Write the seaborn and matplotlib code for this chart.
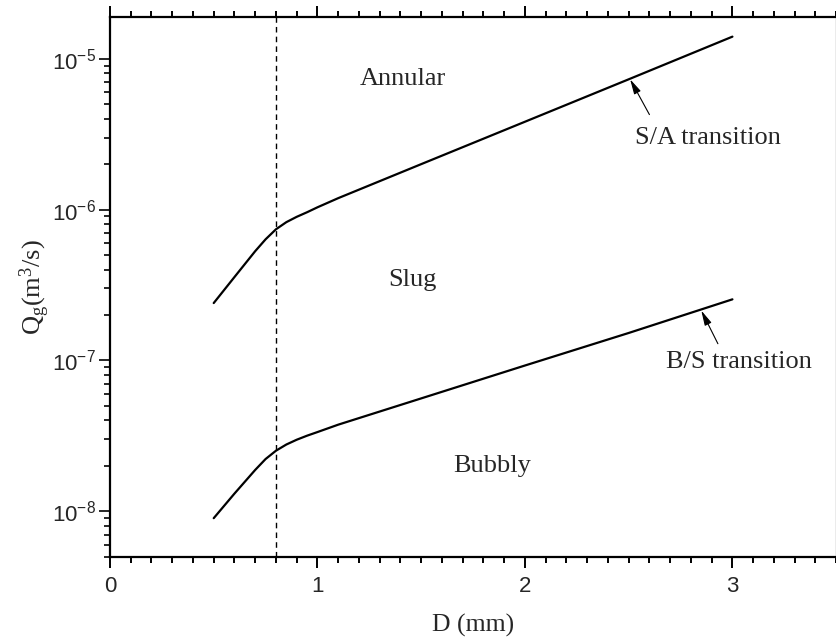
import numpy as np
import pandas as pd
import matplotlib
matplotlib.use('Agg')
import matplotlib.pyplot as plt
import matplotlib.ticker as mticker
import seaborn as sns

# 관 직경 D (mm)와 천이 경계 유량
diameter = [0.5, 0.6, 0.7, 0.75, 0.8, 0.85, 0.9, 0.95, 1.0, 1.1, 1.5, 2.0, 2.5, 3.0]
sa_transition = [2.4e-7, 3.57e-7, 5.3e-7, 6.35e-7, 7.4e-7, 8.25e-7, 8.95e-7, 9.6e-7,
                 1.035e-6, 1.19e-6, 2.0e-6, 3.82e-6, 7.3e-6, 1.4e-5]
bs_transition = [9.0e-9, 1.31e-8, 1.88e-8, 2.22e-8, 2.52e-8, 2.77e-8, 2.98e-8, 3.17e-8,
                 3.35e-8, 3.75e-8, 5.6e-8, 9.25e-8, 1.52e-7, 2.54e-7]
d_crit = 0.8

region_names = ['Annular', 'Slug', 'Bubbly']
region_x = [1.41, 1.46, 1.84]
region_y = [7.3e-6, 3.4e-7, 2.0e-8]

sns.set_style('ticks')
plt.rcParams['font.family'] = ['Liberation Serif', 'DejaVu Serif']

df = pd.DataFrame({'D': diameter + diameter,
                   'Qg': sa_transition + bs_transition,
                   'curve': ['S/A'] * len(diameter) + ['B/S'] * len(diameter)})

fig = plt.figure(figsize=(8.37, 6.42), dpi=100)
ax = fig.add_axes([0.1314, 0.1329, 0.8676, 0.8401])

sns.lineplot(data=df, x='D', y='Qg', units='curve', estimator=None,
             color='black', linewidth=1.6, ax=ax)
ax.axvline(d_crit, color='black', linestyle=(0, (4, 3)), linewidth=1.0)

ax.set_yscale('log')
ax.set_xlim(0, 3.5)
ax.set_ylim(5e-9, 1.88e-5)

# 축 눈금
ax.xaxis.set_major_locator(mticker.FixedLocator([0, 1, 2, 3]))
ax.xaxis.set_minor_locator(mticker.MultipleLocator(0.1))
ax.yaxis.set_major_locator(mticker.LogLocator(base=10))
ax.yaxis.set_minor_locator(mticker.LogLocator(base=10, subs=np.arange(2, 10)))
ax.yaxis.set_major_formatter(mticker.FuncFormatter(
    lambda v, p: r'$\mathregular{10^{%d}}$' % round(np.log10(v))))

ax.tick_params(axis='x', which='both', direction='out', top=True, bottom=True, color='black')
ax.tick_params(axis='x', which='major', length=8, width=1.4, pad=6)
ax.tick_params(axis='x', which='minor', length=4, width=1.4)
ax.tick_params(axis='y', which='both', direction='out', left=True, right=False)
ax.tick_params(axis='y', which='major', length=8, width=1.4, pad=2)
ax.tick_params(axis='y', which='minor', length=4, width=1.4)
for lab in ax.get_xticklabels() + ax.get_yticklabels():
    lab.set_family(['Liberation Sans', 'DejaVu Sans'])
    lab.set_fontsize(16)

for side in ['left', 'bottom', 'top']:
    ax.spines[side].set_linewidth(1.6)
    ax.spines[side].set_color('black')
ax.spines['right'].set_linewidth(1.0)
ax.spines['right'].set_color('#999999')
ax.spines['right'].set_visible(True)
ax.spines['top'].set_visible(True)

ax.set_xlabel('D (mm)', fontsize=18.5, labelpad=12)
ax.set_ylabel(r'$\mathregular{Q_g(m^3/s)}$', fontsize=19, labelpad=0)

for name, x, y in zip(region_names, region_x, region_y):
    ax.text(x, y, name, fontsize=19, ha='center', va='center')

# 천이선 화살표
arrow = dict(arrowstyle='-|>,head_length=0.9,head_width=0.22', color='black',
             linewidth=0.8, shrinkA=0, shrinkB=0)
ax.annotate('', xy=(2.507, 7.3e-6), xytext=(2.60, 4.26e-6), arrowprops=arrow)
ax.text(2.531, 3.0e-6, 'S/A transition', fontsize=19, ha='left', va='center')
ax.annotate('', xy=(2.85, 2.14e-7), xytext=(2.93, 1.29e-7), arrowprops=arrow)
ax.text(2.681, 9.7e-8, 'B/S transition', fontsize=19, ha='left', va='center')

fig.savefig('out.png', dpi=100)
